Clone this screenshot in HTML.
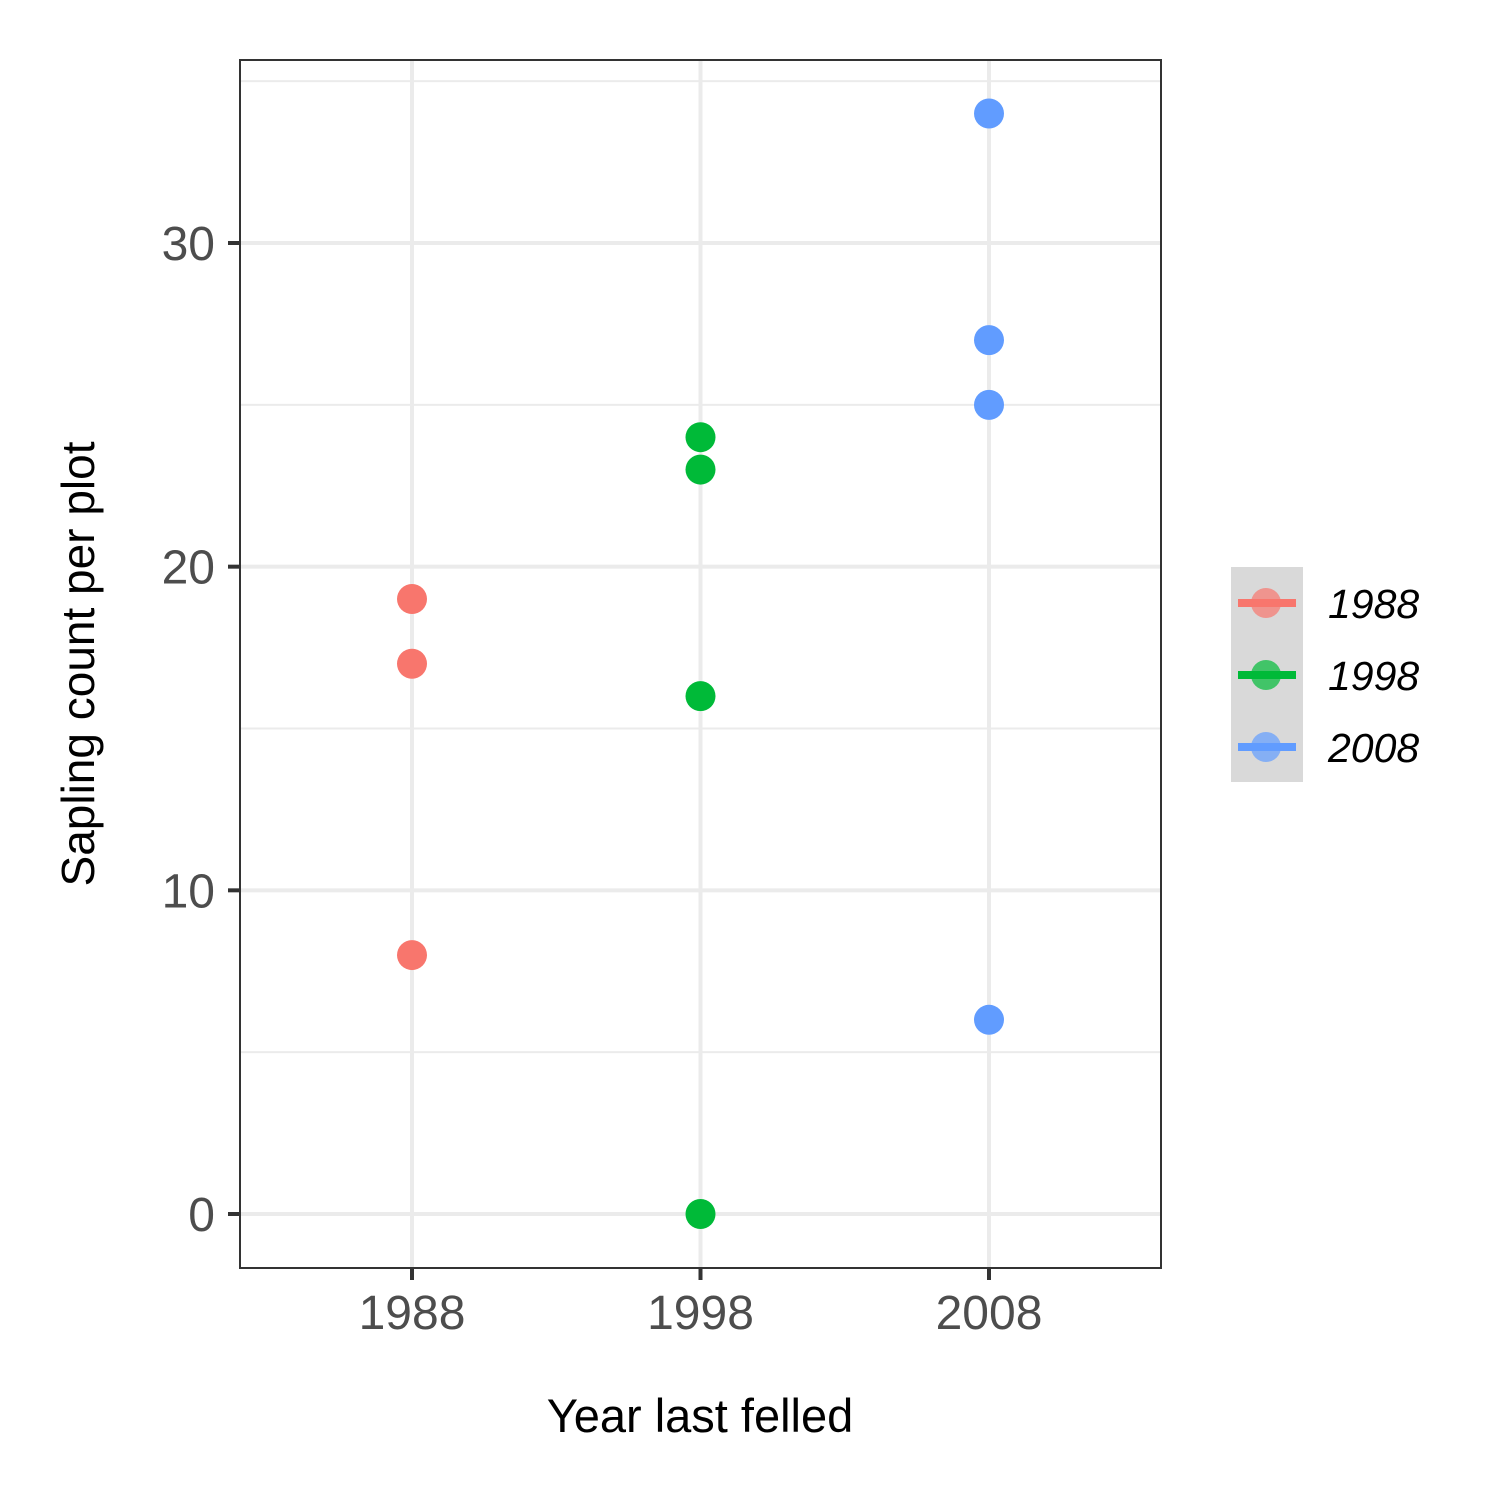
<!DOCTYPE html>
<html><head><meta charset="utf-8"><style>
html,body{margin:0;padding:0;background:#fff;width:1500px;height:1500px;overflow:hidden}
svg{display:block;font-family:"Liberation Sans",Arial,sans-serif}
</style></head><body>
<svg id="chart" width="1500" height="1500" viewBox="0 0 1500 1500" xmlns="http://www.w3.org/2000/svg">
<rect x="0" y="0" width="1500" height="1500" fill="#fff"/>
<g id="grid"></g>
<g id="points"></g>
<rect x="240" y="60" width="921" height="1208" fill="none" stroke="#333" stroke-width="2"/>
<g id="axes"></g>
<text x="700" y="1432" text-anchor="middle" font-size="47" fill="#000">Year last felled</text>
<text transform="translate(94,664) rotate(-90)" text-anchor="middle" font-size="46" fill="#000">Sapling count per plot</text>
<g id="legend">
<rect x="1231" y="567" width="72" height="215" fill="#d9d9d9"/>
</g>
</svg>
<script>
const categories = ["1988","1998","2008"];
const colors = ["#F8766D","#00BA38","#619CFF"];
const values1988 = [19,17,8];
const values1998 = [24,23,16,0];
const values2008 = [34,27,25,6];
const yTicks = [0,10,20,30];
const yMinor = [5,15,25,35];

const NS="http://www.w3.org/2000/svg";
const x = i => 412 + i*288.5;
const y = v => 1214 - v*(1214-243)/30;
function mk(tag, attrs, parent){const e=document.createElementNS(NS,tag);for(const k in attrs)e.setAttribute(k,attrs[k]);parent.appendChild(e);return e;}
const grid=document.getElementById('grid'), pts=document.getElementById('points'), axes=document.getElementById('axes'), leg=document.getElementById('legend');

yMinor.forEach(v=>{const l=mk('line',{x1:240,x2:1161,y1:y(v),y2:y(v),stroke:'#ebebeb','stroke-width':2},grid);

});
yTicks.forEach(v=>{const l=mk('line',{x1:240,x2:1161,y1:y(v),y2:y(v),stroke:'#ebebeb','stroke-width':4},grid);


const t=mk('line',{x1:228,x2:240,y1:y(v),y2:y(v),stroke:'#333','stroke-width':4},axes);


const tx=mk('text',{x:215,y:y(v)+17,'text-anchor':'end','font-size':48,fill:'#4d4d4d'},axes);tx.textContent=v;

});
categories.forEach((c,i)=>{const l=mk('line',{x1:x(i),x2:x(i),y1:60,y2:1268,stroke:'#ebebeb','stroke-width':4},grid);


const t=mk('line',{x1:x(i),x2:x(i),y1:1268,y2:1280,stroke:'#333','stroke-width':4},axes);


const tx=mk('text',{x:x(i),y:1329,'text-anchor':'middle','font-size':48,fill:'#4d4d4d'},axes);tx.textContent=c;

});

[values1988,values1998,values2008].forEach((arr,i)=>{arr.forEach(v=>{const p=mk('circle',{cx:x(i),cy:y(v),r:15,fill:colors[i]},pts);

});
const cy=603+i*72;
const c=mk('circle',{cx:1266,cy:cy,r:15,fill:colors[i],'fill-opacity':0.7},leg);


const l=mk('line',{x1:1238,x2:1296,y1:cy,y2:cy,stroke:colors[i],'stroke-width':8},leg);


const t=mk('text',{x:1328,y:cy+15,'font-size':41,'font-style':'italic',fill:'#000'},leg);t.textContent=categories[i];

});
</script>
</body></html>
